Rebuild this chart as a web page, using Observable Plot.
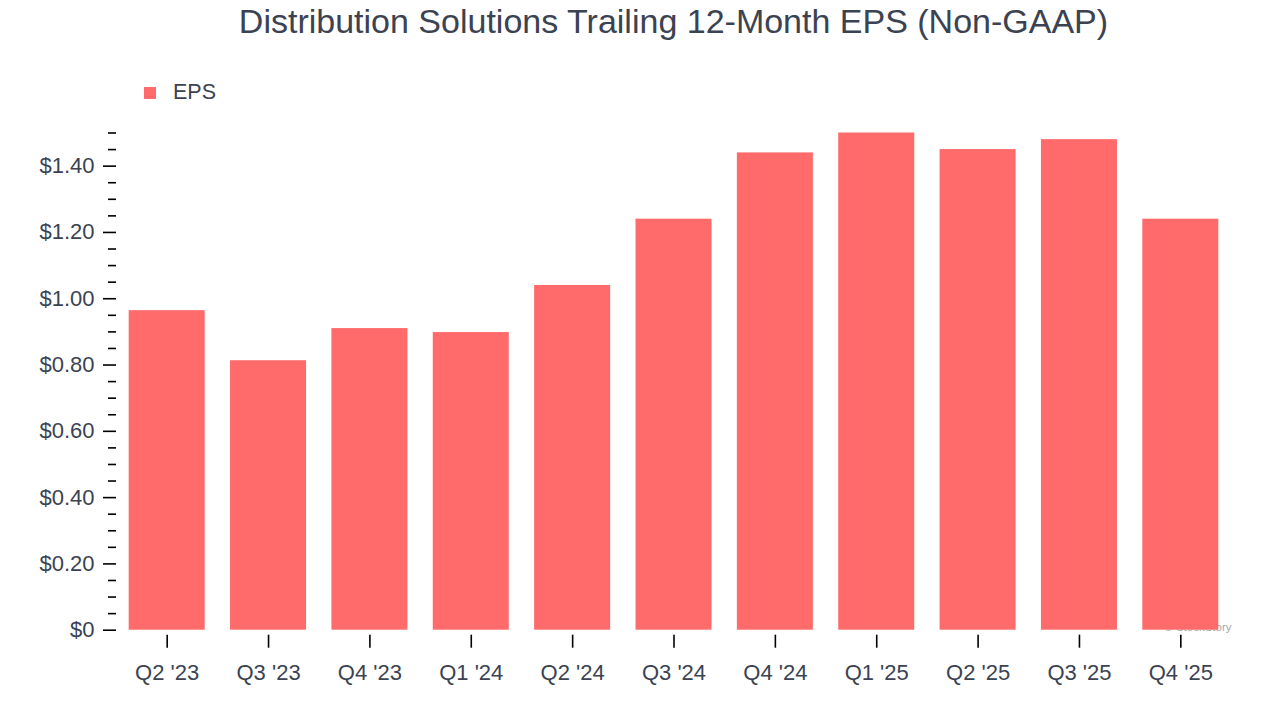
<!DOCTYPE html>
<html>
<head>
<meta charset="utf-8">
<script src="https://cdn.jsdelivr.net/npm/d3@7"></script>
<script src="https://cdn.jsdelivr.net/npm/@observablehq/plot@0.6"></script>
<style>
  html, body { margin: 0; padding: 0; background: #ffffff; }
  body { width: 1280px; height: 720px; position: relative; overflow: hidden;
         font-family: "Liberation Sans", Arial, Helvetica, sans-serif; }
  #title { position: absolute; left: 116px; width: 1115px; top: 2px; text-align: center;
           font-size: 34px; color: #3b4352; white-space: nowrap; }
  #legend { position: absolute; left: 144px; top: 80px; font-size: 21.5px; color: #3b4352;
            display: flex; align-items: center; }
  #legend .sw { width: 12px; height: 12px; background: #ff6b6b; margin-right: 17px; }
  #chart { position: absolute; left: 0; top: 0; }
</style>
</head>
<body>
<div id="chart"></div>
<div id="title">Distribution Solutions Trailing 12-Month EPS (Non-GAAP)</div>
<div id="legend"><span class="sw"></span><span>EPS</span></div>
<script>
const quarters = ["Q2 '23", "Q3 '23", "Q4 '23", "Q1 '24", "Q2 '24", "Q3 '24", "Q4 '24", "Q1 '25", "Q2 '25", "Q3 '25", "Q4 '25"];
const eps = [0.964, 0.813, 0.91, 0.898, 1.04, 1.24, 1.44, 1.50, 1.45, 1.48, 1.24];
const majorTicks = [0, 0.2, 0.4, 0.6, 0.8, 1.0, 1.2, 1.4];
const minorTicks = [0.05, 0.1, 0.15, 0.25, 0.3, 0.35, 0.45, 0.5, 0.55, 0.65, 0.7, 0.75, 0.85, 0.9, 0.95, 1.05, 1.1, 1.15, 1.25, 1.3, 1.35, 1.45, 1.5];

const data = quarters.map((q, i) => ({quarter: q, eps: eps[i]}));
const textColor = "#3b4352";
const fmt = v => v === 0 ? "$0" : "$" + v.toFixed(2);

const chart = Plot.plot({
  width: 1280,
  height: 720,
  marginLeft: 116,
  marginRight: 49,
  marginTop: 132.5,
  marginBottom: 90.3,
  style: {fontFamily: "'Liberation Sans', Arial, Helvetica, sans-serif", fontSize: "22px", color: textColor, background: "transparent"},
  x: {domain: quarters, paddingInner: 0.25, paddingOuter: 0.125, round: false, label: null},
  y: {domain: [0, 1.5], label: null},
  marks: [
    Plot.text(["© StockStory"], {frameAnchor: "bottom-right", dx: 0, dy: 1, fill: "#a3a8b0", fontSize: 11.5, textAnchor: "end"}),
    Plot.barY(data, {x: "quarter", y: "eps", fill: "#ff6b6b"}),
    Plot.axisY(majorTicks, {tickSize: 13, tickPadding: 9, strokeWidth: 1.6, stroke: "#000", tickFormat: fmt, fill: textColor, fontSize: 22, label: null}),
    Plot.axisY(minorTicks, {tickSize: 8, strokeWidth: 1.6, stroke: "#000", tickFormat: () => "", label: null}),
    Plot.axisX({tickSize: 13, tickPadding: 16, strokeWidth: 1.6, stroke: "#000", fill: textColor, fontSize: 22, label: null, dy: 5})
  ]
});
document.getElementById("chart").appendChild(chart);
</script>
</body>
</html>
